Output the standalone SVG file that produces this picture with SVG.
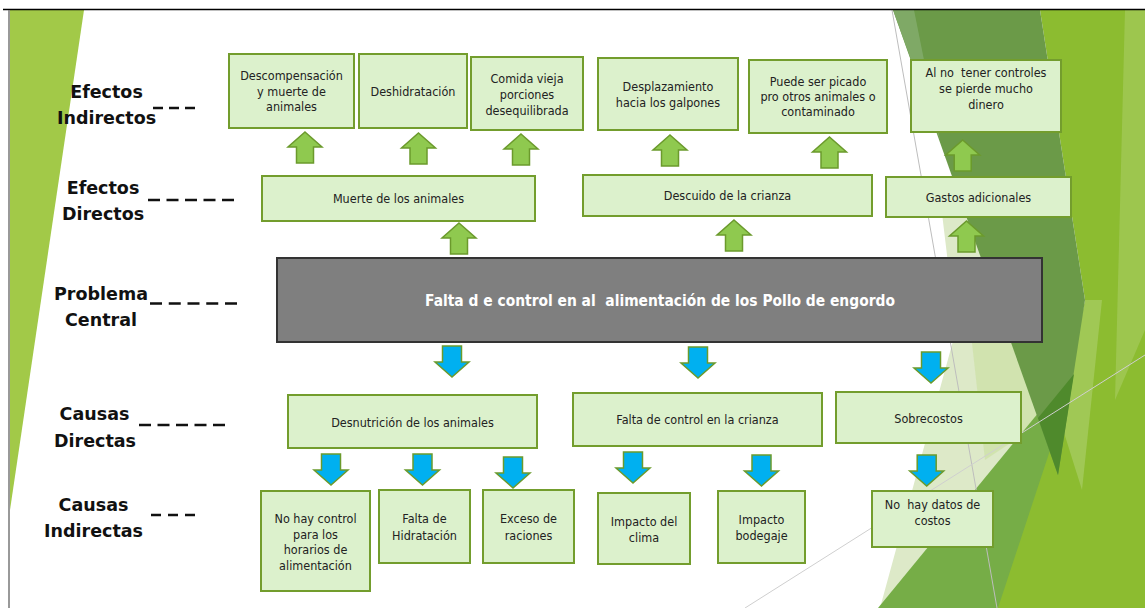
<svg xmlns="http://www.w3.org/2000/svg" width="1145" height="608" viewBox="0 0 1145 608">
<style>
.box{fill:#dcf1cc;stroke:#739d2d;stroke-width:2}
.t{font-family:"DejaVu Sans Condensed","DejaVu Sans",sans-serif;font-size:12.5px;fill:#222;text-anchor:middle;white-space:pre}
.lbl{font-family:"DejaVu Sans",sans-serif;font-weight:bold;font-size:17.5px;fill:#111;text-anchor:middle}
.dash{stroke:#111;stroke-width:2.5;fill:none}
.up{fill:#8fc94f;stroke:#6b9a2c;stroke-width:1.5}
.dn{fill:#00b0f0;stroke:#6b9a2c;stroke-width:1.5}
.central{fill:#7f7f7f;stroke:#333;stroke-width:2}
.ct{font-family:"DejaVu Sans Condensed","DejaVu Sans",sans-serif;font-weight:bold;font-size:15.4px;fill:#fff;text-anchor:middle;white-space:pre}
</style>
<defs>
<path id="ua" d="M0,0 L17,15 L8.5,15 L8.5,31 L-8.5,31 L-8.5,15 L-17,15 Z"/>
<path id="da" d="M-9.5,0 L9.5,0 L9.5,16 L17,16 L0,31 L-17,16 L-9.5,16 Z"/>
</defs>
<rect x="0" y="0" width="1145" height="608" fill="#fff"/>
<g id="background">
<polygon points="10,10 84,10 10,510" fill="#a2c948"/>
<polygon points="938,180 1000,180 1058,475 1000,608 880,608 956,330" fill="#dde9c8"/>
<polygon points="965,280 1015,280 1045,420 985,460" fill="#c9df9f" fill-opacity="0.6"/>
<polygon points="878,608 1145,283 1145,608" fill="#76ad47"/>
<polygon points="1040,10 1145,10 1145,608 998,608 1060,420 1085,300" fill="#8cbc30"/>
<polygon points="1125,10 1145,10 1145,330 1115,400" fill="#ffffff" fill-opacity="0.15"/>
<polygon points="1083,300 1102,300 1082,490 1060,420" fill="#ffffff" fill-opacity="0.18"/>
<polygon points="893,10 1040,10 1085,300 1058,475" fill="#6b9a48"/>
<polygon points="1038,418 1074,374 1058,475" fill="#4f8a2c"/>
<polygon points="893,10 914,10 940,140" fill="#7fa966"/>
<line x1="892" y1="10" x2="997" y2="608" stroke="#bdbdbd" stroke-width="1"/>
<line x1="745" y1="608" x2="1145" y2="355" stroke="#cfcfcf" stroke-width="1"/>
<line x1="3" y1="9.5" x2="1145" y2="9.5" stroke="#000" stroke-width="1.5"/>
<line x1="9" y1="10" x2="9" y2="608" stroke="#777" stroke-width="1.5"/>
</g>
<g id="labels">
<text class="lbl" x="106.5" y="98">Efectos</text>
<text class="lbl" x="106.5" y="124">Indirectos</text>
<line class="dash" x1="153" y1="108" x2="197" y2="108" stroke-dasharray="10 6"/>
<text class="lbl" x="103" y="194">Efectos</text>
<text class="lbl" x="103" y="220">Directos</text>
<line class="dash" x1="148" y1="200" x2="234" y2="200" stroke-dasharray="12 6.5"/>
<text class="lbl" x="101" y="300">Problema</text>
<text class="lbl" x="101" y="326">Central</text>
<line class="dash" x1="150" y1="303.5" x2="237" y2="303.5" stroke-dasharray="12 6.75"/>
<text class="lbl" x="94.5" y="420">Causas</text>
<text class="lbl" x="95" y="447">Directas</text>
<line class="dash" x1="139" y1="425" x2="225" y2="425" stroke-dasharray="12 6.5"/>
<text class="lbl" x="93.5" y="511">Causas</text>
<text class="lbl" x="93.5" y="537">Indirectas</text>
<line class="dash" x1="151" y1="515" x2="195" y2="515" stroke-dasharray="10 7"/>
</g>
<g id="connectors">
<use href="#ua" class="up" x="305" y="132"/>
<use href="#ua" class="up" x="418.5" y="133"/>
<use href="#ua" class="up" x="521" y="134"/>
<use href="#ua" class="up" x="670" y="135"/>
<use href="#ua" class="up" x="829.5" y="137"/>
<use href="#ua" class="up" x="962.7" y="140"/>
<use href="#ua" class="up" x="459" y="223"/>
<use href="#ua" class="up" x="734" y="220"/>
<use href="#ua" class="up" x="966.5" y="221"/>
<use href="#da" class="dn" x="452" y="346"/>
<use href="#da" class="dn" x="698" y="347"/>
<use href="#da" class="dn" x="931" y="352"/>
<use href="#da" class="dn" x="331" y="454"/>
<use href="#da" class="dn" x="422.5" y="454"/>
<use href="#da" class="dn" x="513" y="457"/>
<use href="#da" class="dn" x="633" y="452"/>
<use href="#da" class="dn" x="761.5" y="455"/>
<use href="#da" class="dn" x="926.7" y="455"/>
</g>
<g id="n-descompensacion"><rect class="box" x="229" y="54" width="125" height="74"/>
<text class="t" x="291.5" y="80">Descompensación</text><text class="t" x="291.5" y="95.5">y muerte de</text><text class="t" x="291.5" y="111">animales</text></g>
<g id="n-deshidratacion"><rect class="box" x="359" y="54" width="108" height="74"/>
<text class="t" x="413" y="96">Deshidratación</text></g>
<g id="n-comida"><rect class="box" x="471" y="57" width="112" height="73"/>
<text class="t" x="527" y="83.3">Comida vieja</text><text class="t" x="527" y="99">porciones</text><text class="t" x="527" y="114.5">desequilibrada</text></g>
<g id="n-desplazamiento"><rect class="box" x="598" y="58" width="140" height="72"/>
<text class="t" x="668" y="90.7">Desplazamiento</text><text class="t" x="668" y="106.7">hacia los galpones</text></g>
<g id="n-picado"><rect class="box" x="749" y="60" width="138" height="73"/>
<text class="t" x="818" y="85.7">Puede ser picado</text><text class="t" x="818" y="101">pro otros animales o</text><text class="t" x="818" y="116">contaminado</text></g>
<g id="n-dinero"><rect class="box" x="911" y="60" width="150" height="72"/>
<text class="t" x="986" y="77.3">Al no  tener controles</text><text class="t" x="986" y="93.3">se pierde mucho</text><text class="t" x="986" y="108.7">dinero</text></g>
<g id="n-muerte"><rect class="box" x="262" y="176" width="273" height="45"/>
<text class="t" x="398.5" y="203.3">Muerte de los animales</text></g>
<g id="n-descuido"><rect class="box" x="583" y="175" width="289" height="41"/>
<text class="t" x="727.5" y="200">Descuido de la crianza</text></g>
<g id="n-gastos"><rect class="box" x="886" y="177" width="185" height="40"/>
<text class="t" x="978.5" y="202.3">Gastos adicionales</text></g>
<g id="n-central"><rect class="central" x="277" y="258" width="765" height="84"/>
<text class="ct" x="660" y="306">Falta d e control en al  alimentación de los Pollo de engordo</text></g>
<g id="n-desnutricion"><rect class="box" x="288" y="395" width="249" height="53"/>
<text class="t" x="412.5" y="426.7">Desnutrición de los animales</text></g>
<g id="n-faltacontrol"><rect class="box" x="573" y="393" width="249" height="53"/>
<text class="t" x="697.5" y="424">Falta de control en la crianza</text></g>
<g id="n-sobrecostos"><rect class="box" x="836" y="392" width="185" height="51"/>
<text class="t" x="928.5" y="422.7">Sobrecostos</text></g>
<g id="n-horarios"><rect class="box" x="261" y="491" width="109" height="100"/>
<text class="t" x="315.5" y="522.5">No hay control</text><text class="t" x="315.5" y="538.5">para los</text><text class="t" x="315.5" y="554">horarios de</text><text class="t" x="315.5" y="569.5">alimentación</text></g>
<g id="n-hidratacion"><rect class="box" x="379" y="490" width="91" height="73"/>
<text class="t" x="424.5" y="523.3">Falta de</text><text class="t" x="424.5" y="540">Hidratación</text></g>
<g id="n-exceso"><rect class="box" x="483" y="490" width="91" height="73"/>
<text class="t" x="528.5" y="523.3">Exceso de</text><text class="t" x="528.5" y="539.5">raciones</text></g>
<g id="n-clima"><rect class="box" x="598" y="493" width="92" height="71"/>
<text class="t" x="644" y="525.7">Impacto del</text><text class="t" x="644" y="541.7">clima</text></g>
<g id="n-bodegaje"><rect class="box" x="718" y="491" width="87" height="72"/>
<text class="t" x="761.5" y="524.3">Impacto</text><text class="t" x="761.5" y="540">bodegaje</text></g>
<g id="n-datos"><rect class="box" x="872" y="491" width="121" height="56"/>
<text class="t" x="932.5" y="509.3">No  hay datos de</text><text class="t" x="932.5" y="525">costos</text></g>
</svg>
